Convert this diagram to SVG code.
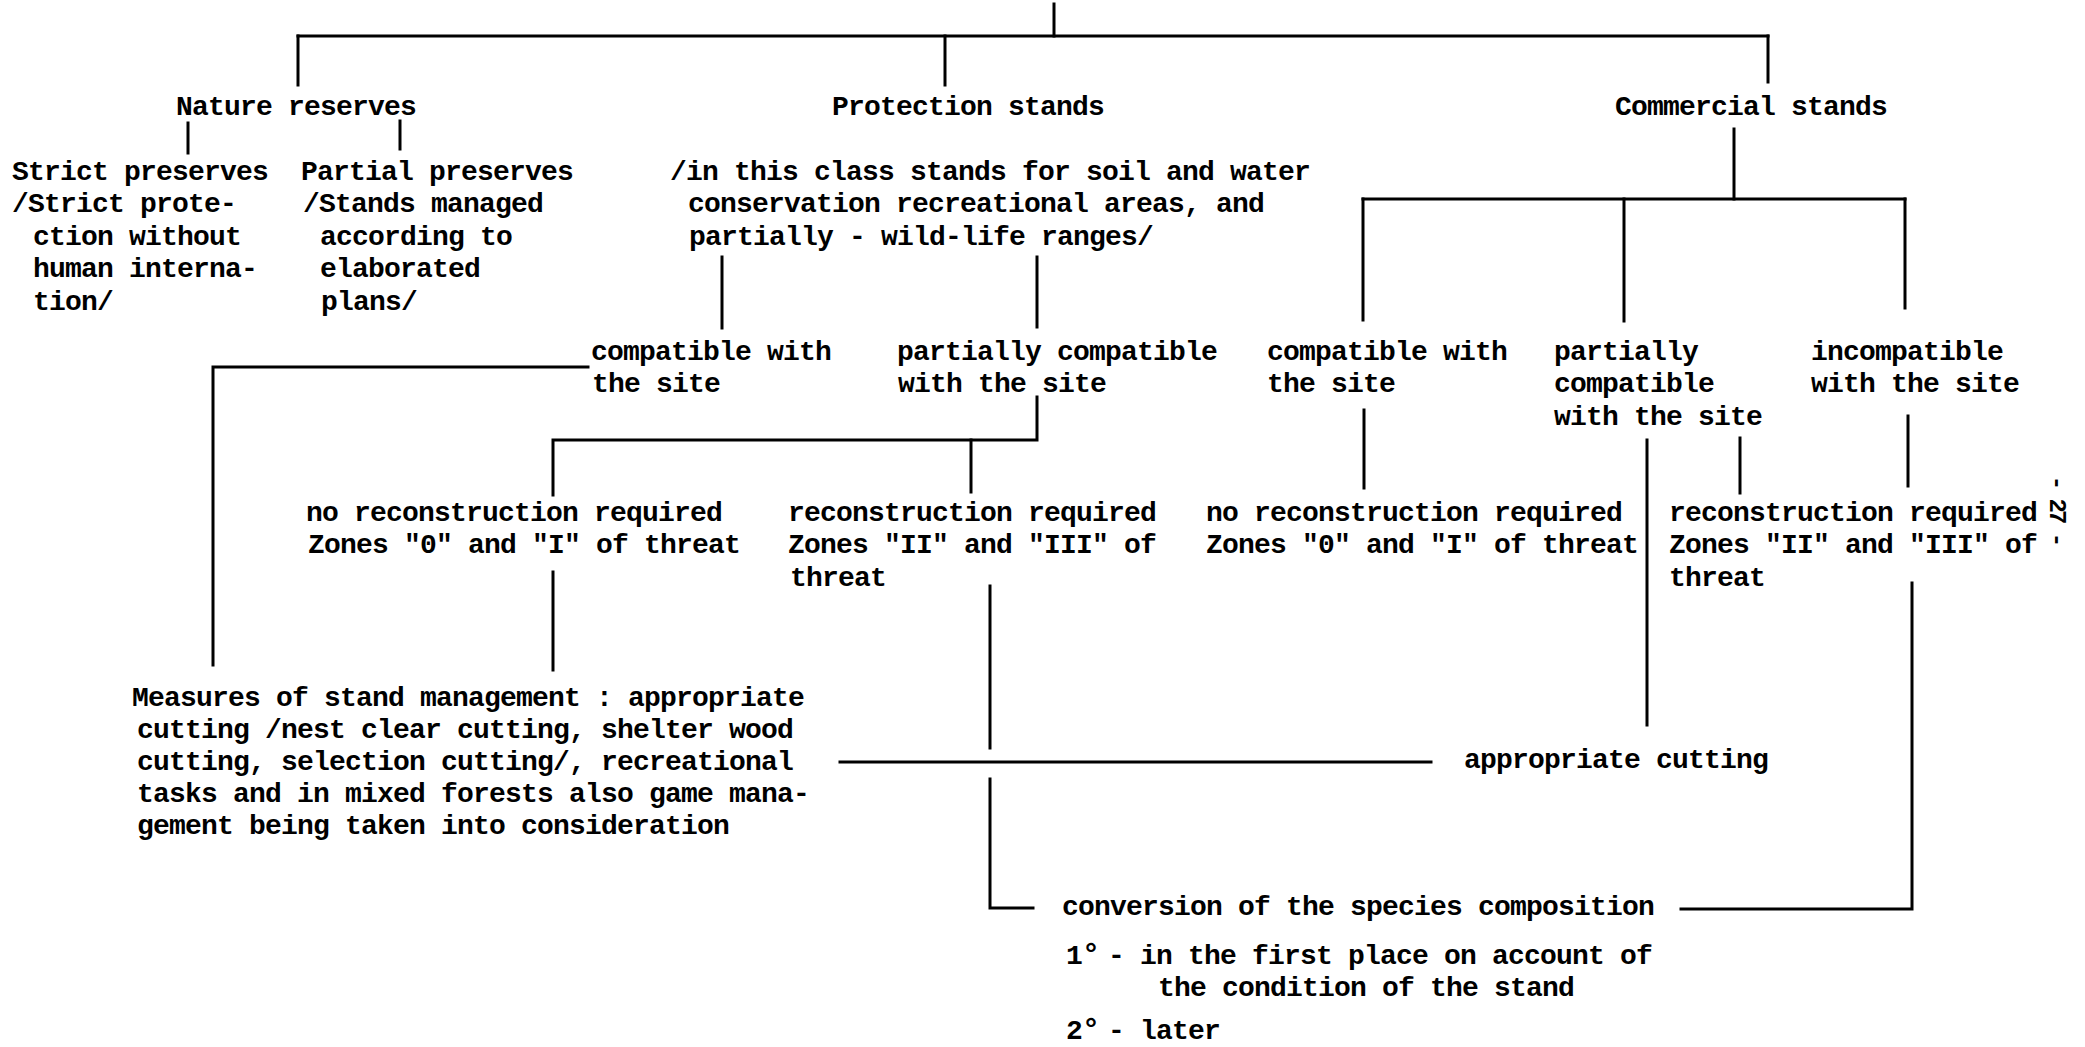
<svg xmlns="http://www.w3.org/2000/svg" width="2085" height="1047" viewBox="0 0 2085 1047">
<style>
text{font-family:"Liberation Mono","DejaVu Sans Mono",monospace;font-weight:bold;font-size:28px;letter-spacing:-0.8px;fill:#000}
.ln{fill:none;stroke:#000;stroke-width:3;stroke-linecap:square}
.sup{font-size:30px}
.pg{font-size:24px;letter-spacing:-3px}
</style>
<rect x="0" y="0" width="2085" height="1047" fill="#fff"/>
<g id="connectors" class="ln">
<path d="M1054,4 V36"/>
<path d="M298,36 H1768"/>
<path d="M298,36 V85"/>
<path d="M945,36 V85"/>
<path d="M1768,36 V82"/>
<path d="M188,123 V153"/>
<path d="M400,121 V149"/>
<path d="M722,257 V328"/>
<path d="M1037,257 V327"/>
<path d="M588,367 H213 V665"/>
<path d="M1037,397 V440 H553 V495"/>
<path d="M971,440 V492"/>
<path d="M553,572 V670"/>
<path d="M990,586 V748"/>
<path d="M840,762 H1431"/>
<path d="M990,779 V908 H1033"/>
<path d="M1734,129 V199"/>
<path d="M1363,199 H1905"/>
<path d="M1363,199 V320"/>
<path d="M1624,199 V321"/>
<path d="M1905,199 V308"/>
<path d="M1364,410 V488"/>
<path d="M1647,440 V725"/>
<path d="M1740,438 V493"/>
<path d="M1908,416 V486"/>
<path d="M1912,583 V909 H1681"/>
</g>
<g id="nature-reserves"><text x="176" y="115">Nature reserves</text></g>
<g id="protection-stands"><text x="832" y="115">Protection stands</text></g>
<g id="commercial-stands"><text x="1615" y="115">Commercial stands</text></g>
<g id="strict-preserves">
<text x="12" y="180">Strict preserves</text>
<text x="12" y="212">/Strict prote-</text>
<text x="33" y="245">ction without</text>
<text x="33" y="277">human interna-</text>
<text x="33" y="310">tion/</text>
</g>
<g id="partial-preserves">
<text x="301" y="180">Partial preserves</text>
<text x="303" y="212">/Stands managed</text>
<text x="320" y="245">according to</text>
<text x="320" y="277">elaborated</text>
<text x="321" y="310">plans/</text>
</g>
<g id="protection-note">
<text x="670" y="180">/in this class stands for soil and water</text>
<text x="688" y="212">conservation recreational areas, and</text>
<text x="689" y="245">partially - wild-life ranges/</text>
</g>
<g id="prot-compatible">
<text x="591" y="360">compatible with</text>
<text x="592" y="392">the site</text>
</g>
<g id="prot-partial">
<text x="897" y="360">partially compatible</text>
<text x="898" y="392">with the site</text>
</g>
<g id="comm-compatible">
<text x="1267" y="360">compatible with</text>
<text x="1267" y="392">the site</text>
</g>
<g id="comm-partial">
<text x="1554" y="360">partially</text>
<text x="1554" y="392">compatible</text>
<text x="1554" y="425">with the site</text>
</g>
<g id="comm-incompatible">
<text x="1811" y="360">incompatible</text>
<text x="1811" y="392">with the site</text>
</g>
<g id="prot-no-reconstruction">
<text x="306" y="521">no reconstruction required</text>
<text x="308" y="553">Zones "0" and "I" of threat</text>
</g>
<g id="prot-reconstruction">
<text x="788" y="521">reconstruction required</text>
<text x="788" y="553">Zones "II" and "III" of</text>
<text x="790" y="586">threat</text>
</g>
<g id="comm-no-reconstruction">
<text x="1206" y="521">no reconstruction required</text>
<text x="1206" y="553">Zones "0" and "I" of threat</text>
</g>
<g id="comm-reconstruction">
<text x="1669" y="521">reconstruction required</text>
<text x="1669" y="553">Zones "II" and "III" of</text>
<text x="1669" y="586">threat</text>
</g>
<g id="measures">
<text x="132" y="706">Measures of stand management : appropriate</text>
<text x="137" y="738">cutting /nest clear cutting, shelter wood</text>
<text x="137" y="770">cutting, selection cutting/, recreational</text>
<text x="137" y="802">tasks and in mixed forests also game mana-</text>
<text x="137" y="834">gement being taken into consideration</text>
</g>
<g id="appropriate-cutting"><text x="1464" y="768">appropriate cutting</text></g>
<g id="conversion">
<text x="1062" y="915">conversion of the species composition</text>
<text x="1066" y="964">1<tspan class="sup">°</tspan><tspan x="1108">- in the first place on account of</tspan></text>
<text x="1158" y="996">the condition of the stand</text>
<text x="1066" y="1039">2<tspan class="sup">°</tspan><tspan x="1108">- later</tspan></text>
</g>
<g id="page-number"><text class="pg" transform="translate(2050,510) rotate(90)" text-anchor="middle">- 27 -</text></g>
</svg>
